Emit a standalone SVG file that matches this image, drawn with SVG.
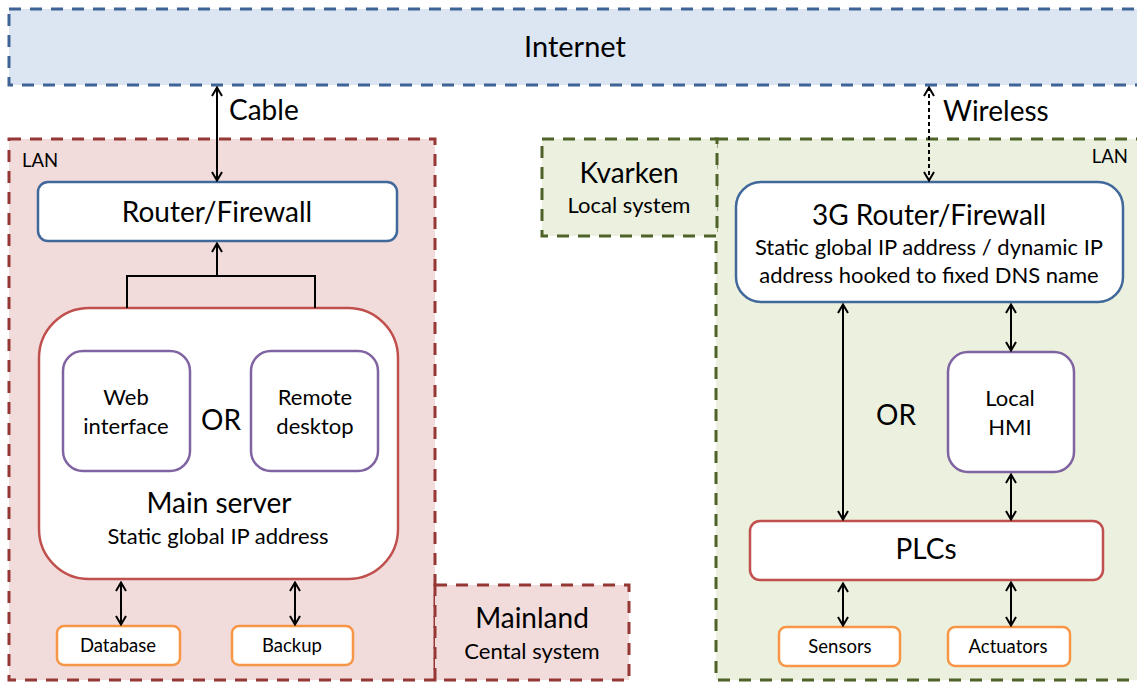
<svg xmlns="http://www.w3.org/2000/svg" width="1137" height="682" viewBox="0 0 1137 682">
<defs>
<marker id="ah" viewBox="0 0 12 12" refX="11" refY="6" markerWidth="12" markerHeight="12" markerUnits="userSpaceOnUse" orient="auto-start-reverse">
<path d="M2,1 L10.5,6 L2,11" fill="none" stroke="#000" stroke-width="2"/>
</marker>
</defs>
<style>
text{font-family:Lato,"Open Sans","Liberation Sans",sans-serif;fill:#000;text-anchor:middle}
.zone{stroke-width:3;stroke-dasharray:12 9}
.node{fill:#fff;stroke-width:2.5}
.blue{stroke:#41689a}
.red{stroke:#c0504d}
.purple{stroke:#8064a2}
.orange{stroke:#f79646}
.t24{font-size:28px}
.t18{font-size:22px}
.t16{font-size:18.5px}
.conn{stroke:#000;stroke-width:2;fill:none}
.arr{marker-start:url(#ah);marker-end:url(#ah)}
</style>
<g id="internet">
<rect class="zone" x="9" y="9" width="1140" height="76" fill="#dce6f2" stroke="#3e6396"/>
<text x="575" y="57" style="font-size:29px">Internet</text>
</g>
<g id="lan-left">
<rect class="zone" x="9" y="139" width="426" height="541" fill="#f2dcdb" stroke="#953735"/>
<text class="t16" x="22" y="167" style="text-anchor:start">LAN</text>
</g>
<g id="mainland">
<rect class="zone" x="435" y="585" width="194" height="95" fill="#f2dcdb" stroke="#953735"/>
<text class="t24" x="532" y="628">Mainland</text>
<text class="t18" x="532" y="659">Cental system</text>
</g>
<g id="lan-right">
<rect class="zone" x="716" y="139" width="440" height="541" fill="#ebf1de" stroke="#4f6228"/>
<text class="t16" x="1128" y="163" style="text-anchor:end">LAN</text>
</g>
<g id="kvarken">
<rect class="zone" x="542" y="139" width="175" height="97" fill="#ebf1de" stroke="#4f6228"/>
<text class="t24" x="629" y="183">Kvarken</text>
<text class="t18" x="629" y="213">Local system</text>
</g>
<g id="router">
<rect class="node blue" x="38" y="182" width="359" height="59" rx="10"/>
<text class="t24" x="217" y="222">Router/Firewall</text>
</g>
<g id="main-server">
<rect class="node red" x="39" y="308" width="359" height="271" rx="50"/>
<text class="t24" x="219" y="513">Main server</text>
<text class="t18" x="218" y="544">Static global IP address</text>
<text class="t24" x="221" y="430">OR</text>
</g>
<g id="web-interface">
<rect class="node purple" x="63" y="351" width="127" height="120" rx="20"/>
<text class="t18" x="126" y="405">Web</text>
<text class="t18" x="126" y="434">interface</text>
</g>
<g id="remote-desktop">
<rect class="node purple" x="251" y="351" width="127" height="120" rx="20"/>
<text class="t18" x="315" y="405">Remote</text>
<text class="t18" x="315" y="434">desktop</text>
</g>
<g id="database">
<rect class="node orange" x="57" y="626" width="123" height="39" rx="7"/>
<text class="t16" x="118" y="652">Database</text>
</g>
<g id="backup">
<rect class="node orange" x="232" y="626" width="121" height="39" rx="7"/>
<text class="t16" x="292" y="652">Backup</text>
</g>
<g id="router-3g">
<rect class="node blue" x="736" y="182" width="387" height="120" rx="25"/>
<text class="t24" x="929" y="225">3G Router/Firewall</text>
<text class="t18" x="929" y="255">Static global IP address / dynamic IP</text>
<text class="t18" x="929" y="283">address hooked to fixed DNS name</text>
</g>
<g id="local-hmi">
<rect class="node purple" x="948" y="352" width="126" height="120" rx="20"/>
<text class="t18" x="1010" y="406">Local</text>
<text class="t18" x="1010" y="435">HMI</text>
</g>
<g id="plcs">
<rect class="node red" x="750" y="521" width="353" height="59" rx="10"/>
<text class="t24" x="926" y="559">PLCs</text>
</g>
<g id="sensors">
<rect class="node orange" x="779" y="627" width="121" height="39" rx="7"/>
<text class="t16" x="840" y="653">Sensors</text>
</g>
<g id="actuators">
<rect class="node orange" x="948" y="627" width="122" height="39" rx="7"/>
<text class="t16" x="1008" y="653">Actuators</text>
</g>
<g id="labels">
<text class="t24" x="229" y="120" style="text-anchor:start">Cable</text>
<text class="t24" x="943" y="121" style="text-anchor:start">Wireless</text>
<text class="t24" x="896" y="425">OR</text>
</g>
<g id="connectors">
<line class="conn arr" x1="217" y1="87" x2="217" y2="181"/>
<line class="conn arr" x1="929" y1="87" x2="929" y2="181" stroke-dasharray="4 3"/>
<line class="conn" x1="217" y1="276" x2="217" y2="243" marker-end="url(#ah)"/>
<polyline class="conn" points="127,308 127,276 315,276 315,308"/>
<line class="conn arr" x1="121" y1="582" x2="121" y2="625"/>
<line class="conn arr" x1="295" y1="582" x2="295" y2="625"/>
<line class="conn arr" x1="843" y1="304" x2="843" y2="520"/>
<line class="conn arr" x1="1011" y1="304" x2="1011" y2="351"/>
<line class="conn arr" x1="1011" y1="474" x2="1011" y2="520"/>
<line class="conn arr" x1="843" y1="583" x2="843" y2="626"/>
<line class="conn arr" x1="1011" y1="582" x2="1011" y2="626"/>
</g>
</svg>
